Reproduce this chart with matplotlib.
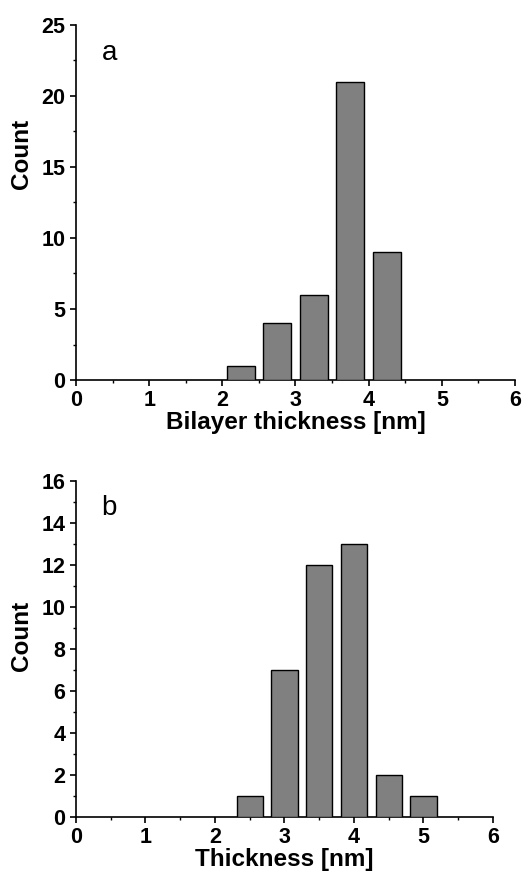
import matplotlib
matplotlib.use("Agg")
import matplotlib.pyplot as plt
from matplotlib.ticker import MultipleLocator

plt.rcParams["font.family"] = ["Liberation Sans", "DejaVu Sans"]

# panel a: bilayer thickness histogram
a_centers = [2.25, 2.75, 3.25, 3.75, 4.25]
a_counts = [1, 4, 6, 21, 9]

# panel b: thickness histogram
b_centers = [2.5, 3.0, 3.5, 4.0, 4.5, 5.0]
b_counts = [1, 7, 12, 13, 2, 1]

BAR_W = 0.38
BAR_COLOR = "#808080"

fig = plt.figure(figsize=(5.23, 8.76), dpi=100)
ax_a = fig.add_axes([0.1453, 0.5662, 0.8394, 0.4053])
ax_b = fig.add_axes([0.1453, 0.0677, 0.7973, 0.3836])


def style(ax, ymax, ymaj, ymin, xlabel, letter, ylab_x, ylab_y):
    ax.set_xlim(0, 6)
    ax.set_ylim(0, ymax)
    for s in ("top", "right"):
        ax.spines[s].set_visible(False)
    for s in ("left", "bottom"):
        ax.spines[s].set_linewidth(1.2)
    ax.xaxis.set_major_locator(MultipleLocator(1))
    ax.xaxis.set_minor_locator(MultipleLocator(0.5))
    ax.yaxis.set_major_locator(MultipleLocator(ymaj))
    ax.yaxis.set_minor_locator(MultipleLocator(ymin))
    ax.tick_params(which="major", direction="out", length=4.5, width=1.2,
                   labelsize=15.5, pad=3)
    ax.tick_params(which="minor", direction="out", length=2.5, width=1.0)
    for lab in ax.get_xticklabels() + ax.get_yticklabels():
        lab.set_fontweight("bold")
    ax.set_xlabel(xlabel, fontsize=17.5, fontweight="bold", labelpad=0)
    ax.set_ylabel("Count", fontsize=17.5, fontweight="bold")
    ax.yaxis.set_label_coords(ylab_x, ylab_y)
    ax.text(0.06, 0.92, letter, transform=ax.transAxes, fontsize=20,
            va="center", ha="left")


ax_a.bar(a_centers, a_counts, width=BAR_W, color=BAR_COLOR,
         edgecolor="black", linewidth=1.0, zorder=3)
ax_b.bar(b_centers, b_counts, width=BAR_W, color=BAR_COLOR,
         edgecolor="black", linewidth=1.0, zorder=3)

style(ax_a, 25, 5, 2.5, "Bilayer thickness [nm]", "a", -0.098, 0.637)
style(ax_b, 16, 2, 1, "Thickness [nm]", "b", -0.103, 0.538)

fig.savefig("out.png", dpi=100)
